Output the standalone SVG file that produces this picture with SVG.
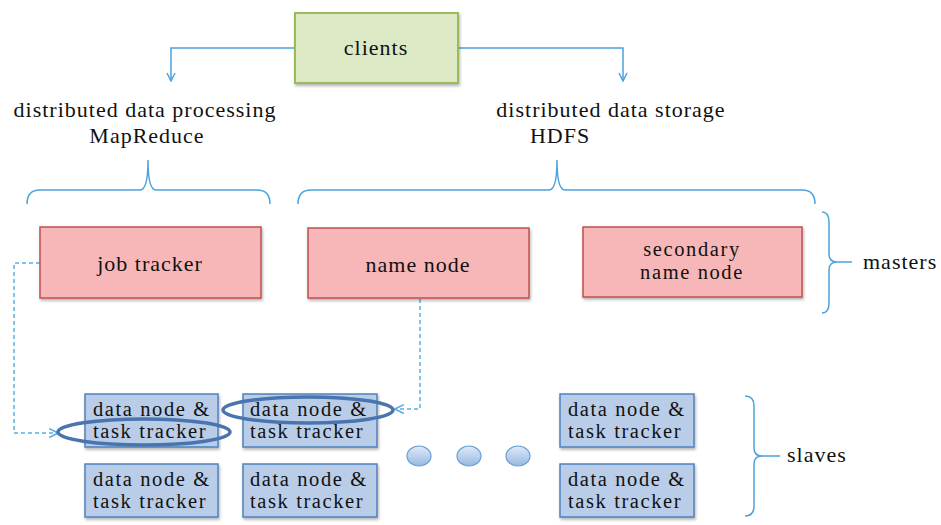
<svg xmlns="http://www.w3.org/2000/svg" width="941" height="525" viewBox="0 0 941 525">
  <defs>
    <style>
      text { font-family: "Liberation Serif", "Times New Roman", serif; font-size: 22px; fill: #111; letter-spacing: 1px; }
      .mid { text-anchor: middle; }
      .small { font-size: 20.5px; letter-spacing: 1.6px; }
      .client { fill: #dde9c5; stroke: #9bbb59; stroke-width: 2; }
      .master { fill: #f7b7b8; stroke: #c0504d; stroke-width: 1.5; }
      .slave { fill: #b9cde9; stroke: #4f81bd; stroke-width: 1.5; }
      .line { fill: none; stroke: #4ba3de; stroke-width: 1.5; }
      .dash { fill: none; stroke: #5ab0e8; stroke-width: 1.5; stroke-dasharray: 4 3; }
      .brace { fill: none; stroke: #4ba3de; stroke-width: 1.5; }
      .ring { fill: none; stroke: #4a74ae; stroke-width: 3.5; }
      .dot { fill: url(#dotFill); stroke: #6a9fd4; stroke-width: 1.2; }
    </style>
    <filter id="shadow" x="-10%" y="-10%" width="125%" height="135%">
      <feDropShadow dx="1" dy="2" stdDeviation="1.5" flood-color="#000" flood-opacity="0.3"/>
    </filter>
    <linearGradient id="dotFill" x1="0" y1="0" x2="0" y2="1">
      <stop offset="0" stop-color="#dfeaf7"/>
      <stop offset="1" stop-color="#95b9e2"/>
    </linearGradient>
    <marker id="vee" viewBox="0 0 10 10" refX="9" refY="5" markerWidth="10" markerHeight="10" markerUnits="userSpaceOnUse" orient="auto">
      <path d="M1,1 L9,5 L1,9" fill="none" stroke="#4ba3de" stroke-width="1.5"/>
    </marker>
    <marker id="veeDash" viewBox="0 0 10 10" refX="9" refY="5" markerWidth="11" markerHeight="11" markerUnits="userSpaceOnUse" orient="auto">
      <path d="M1,1 L9,5 L1,9" fill="none" stroke="#5ab0e8" stroke-width="1.5"/>
    </marker>
  </defs>

  <!-- connectors -->
  <g id="connectors">
    <path class="line" d="M295,48 H171 V81" marker-end="url(#vee)"/>
    <path class="line" d="M458,48 H623 V81" marker-end="url(#vee)"/>
    <path class="dash" d="M40,263 H14 V433 H58" marker-end="url(#veeDash)"/>
    <path class="dash" d="M420,299 V409 H395" marker-end="url(#veeDash)"/>
  </g>

  <!-- braces -->
  <g id="braces">
    <path class="brace" d="M27,204 Q27,190 40,190 L140,190 Q148,190 148,160 Q148,190 156,190 L257,190 Q270,190 270,204"/>
    <path class="brace" d="M298,204 Q298,190 311,190 L549,190 Q557,190 557,160 Q557,190 565,190 L802,190 Q815,190 815,204"/>
    <path class="brace" d="M822,212 Q829,212 829,222 L829,254 Q829,262 837,262 L852,262 M837,262 Q829,262 829,270 L829,303 Q829,313 822,313"/>
    <path class="brace" d="M745,396 Q754,396 754,406 L754,448 Q754,456 762,456 L780,456 M762,456 Q754,456 754,464 L754,506 Q754,516 745,516"/>
  </g>

  <!-- labels -->
  <g id="labels">
    <text class="mid" x="145" y="117">distributed data processing</text>
    <text class="mid" x="147" y="143">MapReduce</text>
    <text class="mid" x="611" y="117">distributed data storage</text>
    <text class="mid" x="560" y="143">HDFS</text>
    <text x="863" y="269">masters</text>
    <text x="787" y="462">slaves</text>
  </g>

  <g id="clients">
    <rect class="client" x="295" y="13" width="163" height="70" filter="url(#shadow)"/>
    <text class="mid" x="376" y="55">clients</text>
  </g>

  <g id="job-tracker">
    <rect class="master" x="40" y="227" width="221" height="71" filter="url(#shadow)"/>
    <text class="mid" x="150" y="271">job tracker</text>
  </g>
  <g id="name-node">
    <rect class="master" x="308" y="228" width="221" height="70" filter="url(#shadow)"/>
    <text class="mid" x="418" y="272">name node</text>
  </g>
  <g id="secondary-name-node">
    <rect class="master" x="583" y="227" width="219" height="70" filter="url(#shadow)"/>
    <text class="mid small" x="692" y="256">secondary</text>
    <text class="mid small" x="692" y="279">name node</text>
  </g>

  <g id="slave-1">
    <rect class="slave" x="85" y="394" width="133" height="53" filter="url(#shadow)"/>
    <text class="small" x="93" y="416">data node &amp;</text>
    <text class="small" x="93" y="438">task tracker</text>
  </g>
  <g id="slave-2">
    <rect class="slave" x="243" y="394" width="134" height="53" filter="url(#shadow)"/>
    <text class="small" x="250" y="416">data node &amp;</text>
    <text class="small" x="250" y="438">task tracker</text>
  </g>
  <g id="slave-3">
    <rect class="slave" x="85" y="464" width="133" height="53" filter="url(#shadow)"/>
    <text class="small" x="93" y="486">data node &amp;</text>
    <text class="small" x="93" y="508">task tracker</text>
  </g>
  <g id="slave-4">
    <rect class="slave" x="243" y="464" width="134" height="53" filter="url(#shadow)"/>
    <text class="small" x="250" y="486">data node &amp;</text>
    <text class="small" x="250" y="508">task tracker</text>
  </g>
  <g id="slave-5">
    <rect class="slave" x="560" y="394" width="134" height="53" filter="url(#shadow)"/>
    <text class="small" x="568" y="416">data node &amp;</text>
    <text class="small" x="568" y="438">task tracker</text>
  </g>
  <g id="slave-6">
    <rect class="slave" x="560" y="464" width="134" height="53" filter="url(#shadow)"/>
    <text class="small" x="568" y="486">data node &amp;</text>
    <text class="small" x="568" y="508">task tracker</text>
  </g>

  <!-- highlight rings -->
  <g id="rings">
    <ellipse class="ring" cx="144" cy="432" rx="86" ry="13"/>
    <ellipse class="ring" cx="308" cy="410" rx="85" ry="13"/>
  </g>

  <!-- ellipsis dots -->
  <g id="dots">
    <ellipse class="dot" cx="419" cy="456" rx="12" ry="10"/>
    <ellipse class="dot" cx="469" cy="456" rx="12" ry="10"/>
    <ellipse class="dot" cx="518" cy="456" rx="12" ry="10"/>
  </g>
</svg>
